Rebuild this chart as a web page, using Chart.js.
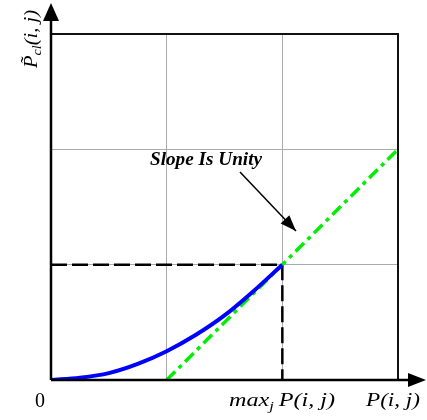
<!DOCTYPE html>
<html><head><meta charset="utf-8">
<script src="https://cdn.jsdelivr.net/npm/chart.js@4/dist/chart.umd.min.js"></script>
<style>html,body{margin:0;padding:0;background:#fff}#w{width:427px;height:420px}</style>
</head><body><div id="w"><canvas id="c" width="427" height="420"></canvas></div>
<script>
const gridTicks = [0, 1, 2, 3];
const curveX = [0, 0.25, 0.5, 0.75, 1, 1.25, 1.5, 1.75, 2];
const curveY = [0, 0.02, 0.06, 0.14, 0.25, 0.39, 0.56, 0.77, 1.0];
const unityX = [1, 3];
const unityY = [0, 2];
const guideX = [0, 2, 2];
const guideY = [1, 1, 0];
const annotText = "Slope Is Unity";
const xLabelZero = "0";

const toPts = (xs, ys) => xs.map((x, i) => ({x: x, y: ys[i]}));

function stretchText(ctx, parts, x0, y0, targetW) {
  // parts: [text, font, dy]
  let w = 0;
  parts.forEach(p => { ctx.font = p[1]; w += ctx.measureText(p[0]).width; });
  const sx = targetW / w;
  ctx.save();
  ctx.translate(x0, y0); ctx.scale(sx, 1);
  ctx.textAlign = 'left';
  let x = 0;
  parts.forEach(p => { ctx.font = p[1]; ctx.fillText(p[0], x, p[2]); x += ctx.measureText(p[0]).width; });
  ctx.restore();
}

const decor = {
  id: 'decor',
  afterDraw(chart) {
    const ctx = chart.ctx, xs = chart.scales.x, ys = chart.scales.y;
    const L = xs.getPixelForValue(0), R = xs.getPixelForValue(3);
    const B = ys.getPixelForValue(0), T = ys.getPixelForValue(3);
    ctx.save();
    ctx.strokeStyle = '#111'; ctx.lineWidth = 2;
    ctx.beginPath(); ctx.moveTo(L, T); ctx.lineTo(R, T); ctx.lineTo(R, B); ctx.stroke();
    ctx.lineWidth = 2.5; ctx.strokeStyle = '#000';
    ctx.beginPath(); ctx.moveTo(L, B); ctx.lineTo(412, B); ctx.stroke();
    ctx.beginPath(); ctx.moveTo(L, B); ctx.lineTo(L, 18); ctx.stroke();
    ctx.fillStyle = '#000';
    ctx.beginPath(); ctx.moveTo(426, B); ctx.lineTo(408, B - 7); ctx.lineTo(408, B + 7); ctx.closePath(); ctx.fill();
    ctx.beginPath(); ctx.moveTo(L, 3); ctx.lineTo(L - 8, 21); ctx.lineTo(L + 8, 21); ctx.closePath(); ctx.fill();
    const ax1 = 240, ay1 = 172, ax2 = 296, ay2 = 231;
    ctx.lineWidth = 1.5;
    ctx.beginPath(); ctx.moveTo(ax1, ay1); ctx.lineTo(ax2, ay2); ctx.stroke();
    const ang = Math.atan2(ay2 - ay1, ax2 - ax1);
    ctx.beginPath();
    ctx.moveTo(ax2, ay2);
    ctx.lineTo(ax2 - 16 * Math.cos(ang) + 6 * Math.sin(ang), ay2 - 16 * Math.sin(ang) - 6 * Math.cos(ang));
    ctx.lineTo(ax2 - 16 * Math.cos(ang) - 6 * Math.sin(ang), ay2 - 16 * Math.sin(ang) + 6 * Math.cos(ang));
    ctx.closePath(); ctx.fill();
    stretchText(ctx, [[annotText, 'italic bold 19px "Liberation Serif"', 0]], 150, 165, 112);
    ctx.font = '20px "Liberation Serif"';
    ctx.textAlign = 'center'; ctx.textBaseline = 'alphabetic';
    ctx.fillText(xLabelZero, 40, 407);
    stretchText(ctx, [['max', 'italic 19px "Liberation Serif"', 0], ['j', 'italic 13px "Liberation Serif"', 4], ['\u2009P(i, j)', 'italic 19px "Liberation Serif"', 0]], 229, 406, 106);
    stretchText(ctx, [['P(i, j)', 'italic 19px "Liberation Serif"', 0]], 366, 406, 54);
    ctx.translate(37, 68); ctx.rotate(-Math.PI / 2);
    stretchText(ctx, [['P\u0303', 'italic 19px "Liberation Serif"', 0], ['cl', 'italic 13px "Liberation Serif"', 4], ['(i, j)', 'italic 19px "Liberation Serif"', 0]], 0, 0, 58);
    ctx.restore();
  }
};

new Chart(document.getElementById('c'), {
  type: 'scatter',
  data: {
    datasets: [
      {data: toPts(curveX, curveY), showLine: true, borderColor: '#0000ff', borderWidth: 4, pointRadius: 0, cubicInterpolationMode: 'monotone', fill: false},
      {data: toPts(unityX, unityY), showLine: true, borderColor: '#00ee00', borderWidth: 3.5, borderDash: [12, 5, 4, 5], pointRadius: 0, fill: false},
      {data: toPts(guideX, guideY), showLine: true, borderColor: '#000', borderWidth: 2.5, borderDash: [16, 5], pointRadius: 0, fill: false}
    ]
  },
  options: {
    responsive: false, animation: false,
    layout: {padding: {left: 51, top: 34, right: 29, bottom: 40}},
    plugins: {legend: {display: false}, tooltip: {enabled: false}},
    scales: {
      x: {type: 'linear', min: 0, max: 3, afterBuildTicks: s => { s.ticks = gridTicks.map(v => ({value: v})); },
          ticks: {display: false}, grid: {color: '#aaa', lineWidth: 1, drawTicks: false}, border: {display: false}},
      y: {type: 'linear', min: 0, max: 3, afterBuildTicks: s => { s.ticks = gridTicks.map(v => ({value: v})); },
          ticks: {display: false}, grid: {color: '#aaa', lineWidth: 1, drawTicks: false}, border: {display: false}}
    }
  },
  plugins: [decor]
});
</script></body></html>
